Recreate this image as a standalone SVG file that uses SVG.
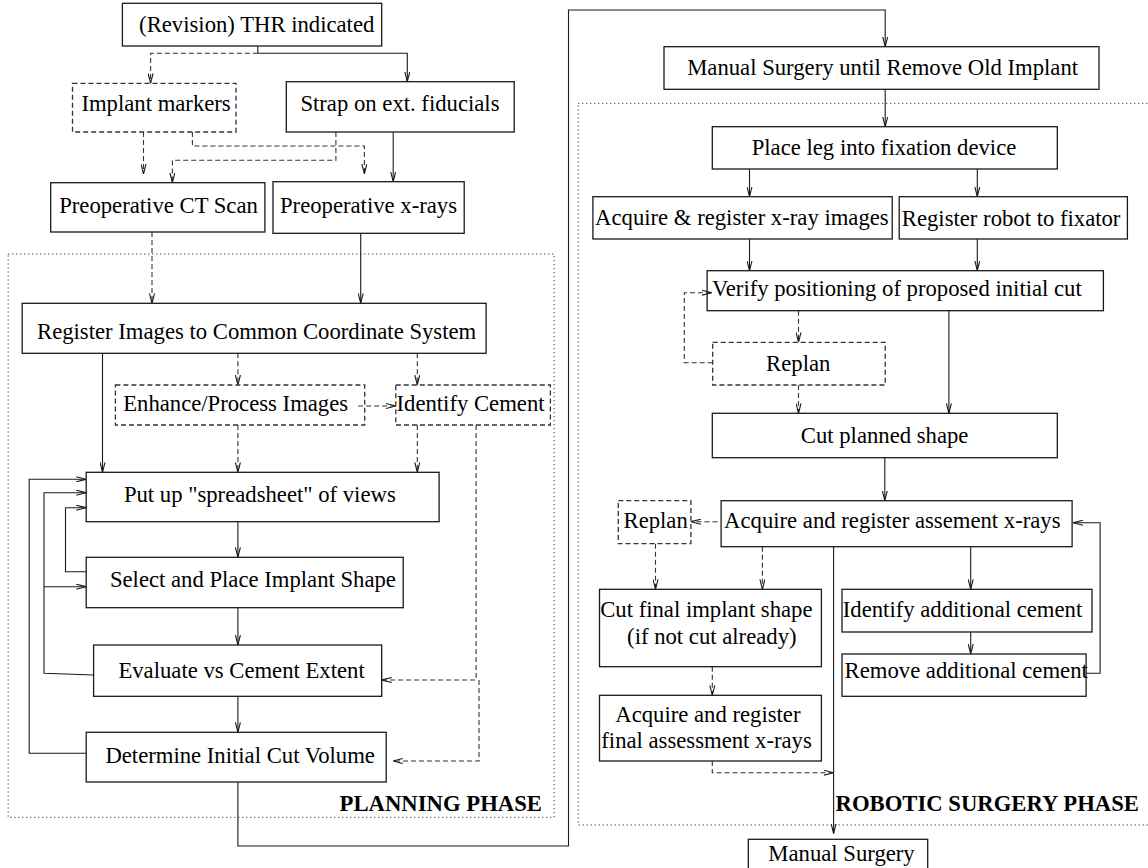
<svg xmlns="http://www.w3.org/2000/svg" width="1148" height="868" viewBox="0 0 1148 868">
<defs>
<style>
.box{fill:none;stroke:#1a1a1a;stroke-width:1.3}
.dbox{fill:none;stroke:#333;stroke-width:1.3;stroke-dasharray:5 3}
.ln{fill:none;stroke:#1a1a1a;stroke-width:1.1;marker-end:url(#a)}
.ln0{fill:none;stroke:#1a1a1a;stroke-width:1.1}
.dl{fill:none;stroke:#333;stroke-width:1.1;stroke-dasharray:5 3;marker-end:url(#a)}
.dot{fill:none;stroke:#333;stroke-width:1;stroke-dasharray:1.2 2.8}
text{font-family:"Liberation Serif","Times New Roman",serif;font-size:22.7px;fill:#000}
.b{font-weight:bold}
</style>
<marker id="a" viewBox="0 0 10 6" refX="10" refY="3" markerWidth="10" markerHeight="6" orient="auto" markerUnits="userSpaceOnUse">
<path d="M0,0.5 L10,3 L0,5.5" fill="none" stroke="#1a1a1a" stroke-width="1.1" stroke-dasharray="none"/>
</marker>
</defs>
<rect width="1148" height="868" fill="#fff"/>

<g id="phases">
<rect class="dot" x="8.1" y="254" width="546" height="563.3"/>
<text class="b" x="339.6" y="810.7">PLANNING PHASE</text>
<rect class="dot" x="578.1" y="103.3" width="580" height="721.7"/>
<text class="b" x="835.5" y="811">ROBOTIC SURGERY PHASE</text>
</g>

<g id="connectors">
<path class="ln0" d="M257.8,46 V53.3"/>
<path class="dl" d="M257.8,53.3 H150.6 V83.3"/>
<path class="ln" d="M257.8,53.3 H407.3 V81.7"/>
<path class="dl" d="M143.5,132 V174"/>
<path class="dl" d="M192.4,132 V146 H364.4 V174"/>
<path class="dl" d="M335.9,132 V160.3 H172.4 V182.7"/>
<path class="ln" d="M393.2,132 V181.7"/>
<path class="dl" d="M152,232 V303.3"/>
<path class="ln" d="M360.7,233.3 V303.3"/>
<path class="ln" d="M102.5,353.3 V472.3"/>
<path class="dl" d="M237.9,353.3 V385"/>
<path class="dl" d="M417.3,353.3 V385"/>
<path class="dl" d="M358.1,406 H395.8"/>
<path class="dl" d="M237.9,425 V472.3"/>
<path class="dl" d="M417.3,425 V472.3"/>
<path class="dl" d="M476.1,425 V680 H381.7"/>
<path class="dl" d="M479,680 V761 H392.8"/>
<path class="ln" d="M237.9,521.7 V557.3"/>
<path class="ln" d="M237.9,607.7 V645"/>
<path class="ln" d="M237.9,696.3 V732.3"/>
<path class="ln" d="M86.2,571.7 H65.5 V507.7 H86.2"/>
<path class="ln" d="M93.6,675 L44,673.3 V492.7 H86.2"/>
<path class="ln" d="M44,586.7 H86.2"/>
<path class="ln" d="M86.2,753.3 H29.2 V479.3 H86.2"/>
<path class="ln" d="M237.9,782 V846 H568.5 V10 H885.2 V46.7"/>
<path class="ln" d="M885.2,89.3 V126.7"/>
<path class="ln" d="M749.5,169 V196.7"/>
<path class="ln" d="M977.3,169 V196.7"/>
<path class="ln" d="M749.5,239 V270.7"/>
<path class="ln" d="M977.3,239 V270.7"/>
<path class="dl" d="M712.7,362.7 H684.3 V292.7 H711.9"/>
<path class="dl" d="M798.5,310.7 V342.3"/>
<path class="dl" d="M798.5,385 V413.3"/>
<path class="ln" d="M948.9,310.7 V413.3"/>
<path class="ln" d="M884.8,457.7 V500.7"/>
<path class="dl" d="M717.5,521.7 H690.9"/>
<path class="ln" d="M1086.1,673.3 H1100.1 V522.7 H1073"/>
<path class="dl" d="M655.5,543.7 V589.3"/>
<path class="dl" d="M762.4,546.7 V589.3"/>
<path class="ln" d="M833.6,546.7 V833.5"/>
<path class="ln" d="M970.7,546.7 V589.3"/>
<path class="dl" d="M712.3,666.7 V695.3"/>
<path class="dl" d="M712.3,761 V772.7 H833.6"/>
<path class="ln" d="M970.7,632 V654"/>
</g>

<g id="n_thr"><rect class="box" x="122.4" y="3.3" width="259.3" height="42.7"/><text x="139.1" y="31.7">(Revision) THR indicated</text></g>
<g id="n_implant_markers"><rect class="dbox" x="72.5" y="83.3" width="163.5" height="48.7"/><text x="81.4" y="111">Implant markers</text></g>
<g id="n_strap"><rect class="box" x="286.3" y="81.7" width="227.9" height="50.3"/><text x="300.4" y="111">Strap on ext. fiducials</text></g>
<g id="n_ct"><rect class="box" x="50.7" y="182.7" width="214.2" height="49.3"/><text x="59.2" y="213">Preoperative CT Scan</text></g>
<g id="n_xrays"><rect class="box" x="273" y="181.7" width="191.2" height="51.6"/><text x="280" y="213">Preoperative x-rays</text></g>
<g id="n_register"><rect class="box" x="22.2" y="303.3" width="463.9" height="50"/><text x="37" y="339">Register Images to Common Coordinate System</text></g>
<g id="n_enhance"><rect class="dbox" x="115.4" y="385" width="249.3" height="40"/><text x="123.2" y="410.7">Enhance/Process Images</text></g>
<g id="n_identify"><rect class="dbox" x="395.8" y="385" width="154.6" height="40"/><text x="396.5" y="410.7">Identify Cement</text></g>
<g id="n_putup"><rect class="box" x="86.2" y="472.3" width="352.9" height="49.4"/><text x="123.9" y="501.7">Put up "spreadsheet" of views</text></g>
<g id="n_select"><rect class="box" x="86.2" y="557.3" width="317" height="50.4"/><text x="109.9" y="586.7">Select and Place Implant Shape</text></g>
<g id="n_evaluate"><rect class="box" x="93.6" y="645" width="288.1" height="51.3"/><text x="118.4" y="677.7">Evaluate vs Cement Extent</text></g>
<g id="n_determine"><rect class="box" x="86.2" y="732.3" width="300" height="49.7"/><text x="105.4" y="763.3">Determine Initial Cut Volume</text></g>

<g id="n_manual_until"><rect class="box" x="664" y="46.7" width="435" height="42.6"/><text x="687.2" y="74.5">Manual Surgery until Remove Old Implant</text></g>
<g id="n_placeleg"><rect class="box" x="712.3" y="126.7" width="345" height="42.3"/><text x="751.7" y="155">Place leg into fixation device</text></g>
<g id="n_acquire_reg"><rect class="box" x="592.9" y="196.7" width="299.3" height="42.3"/><text x="595.1" y="225">Acquire &amp; register x-ray images</text></g>
<g id="n_robot_fix"><rect class="box" x="899.2" y="196.7" width="228.2" height="42.3"/><text x="901.8" y="226">Register robot to fixator</text></g>
<g id="n_verify"><rect class="box" x="707.1" y="270.7" width="396.3" height="40"/><text x="711.9" y="296">Verify positioning of proposed initial cut</text></g>
<g id="n_replan1"><rect class="dbox" x="712.7" y="342.3" width="172.5" height="42.7"/><text x="766.1" y="370.7">Replan</text></g>
<g id="n_cutplanned"><rect class="box" x="712.3" y="413.3" width="345" height="44.4"/><text x="800.8" y="443.3">Cut planned shape</text></g>
<g id="n_assess"><rect class="box" x="721.1" y="500.7" width="351" height="46"/><text x="724.1" y="528.3">Acquire and register assement x-rays</text></g>
<g id="n_replan2"><rect class="dbox" x="618.3" y="500.7" width="72.6" height="43"/><text x="623.5" y="528.3">Replan</text></g>
<g id="n_cutfinal"><rect class="box" x="599.5" y="589.3" width="221.9" height="77.4"/><text x="600.2" y="617.3">Cut final implant shape</text><text x="627.1" y="644">(if not cut already)</text></g>
<g id="n_finalassess"><rect class="box" x="599.5" y="695.3" width="221.9" height="65.7"/><text x="615.3" y="721.7">Acquire and register</text><text x="601.3" y="748.3">final assessment x-rays</text></g>
<g id="n_identify_add"><rect class="box" x="842" y="589.3" width="250" height="42.7"/><text x="842.8" y="617.3">Identify additional cement</text></g>
<g id="n_remove_add"><rect class="box" x="842" y="654" width="244.1" height="42.3"/><text x="844.6" y="678.3">Remove additional cement</text></g>
<g id="n_manual"><rect class="box" x="748.3" y="839.3" width="179.4" height="32"/><text x="768.3" y="861">Manual Surgery</text></g>
</svg>
